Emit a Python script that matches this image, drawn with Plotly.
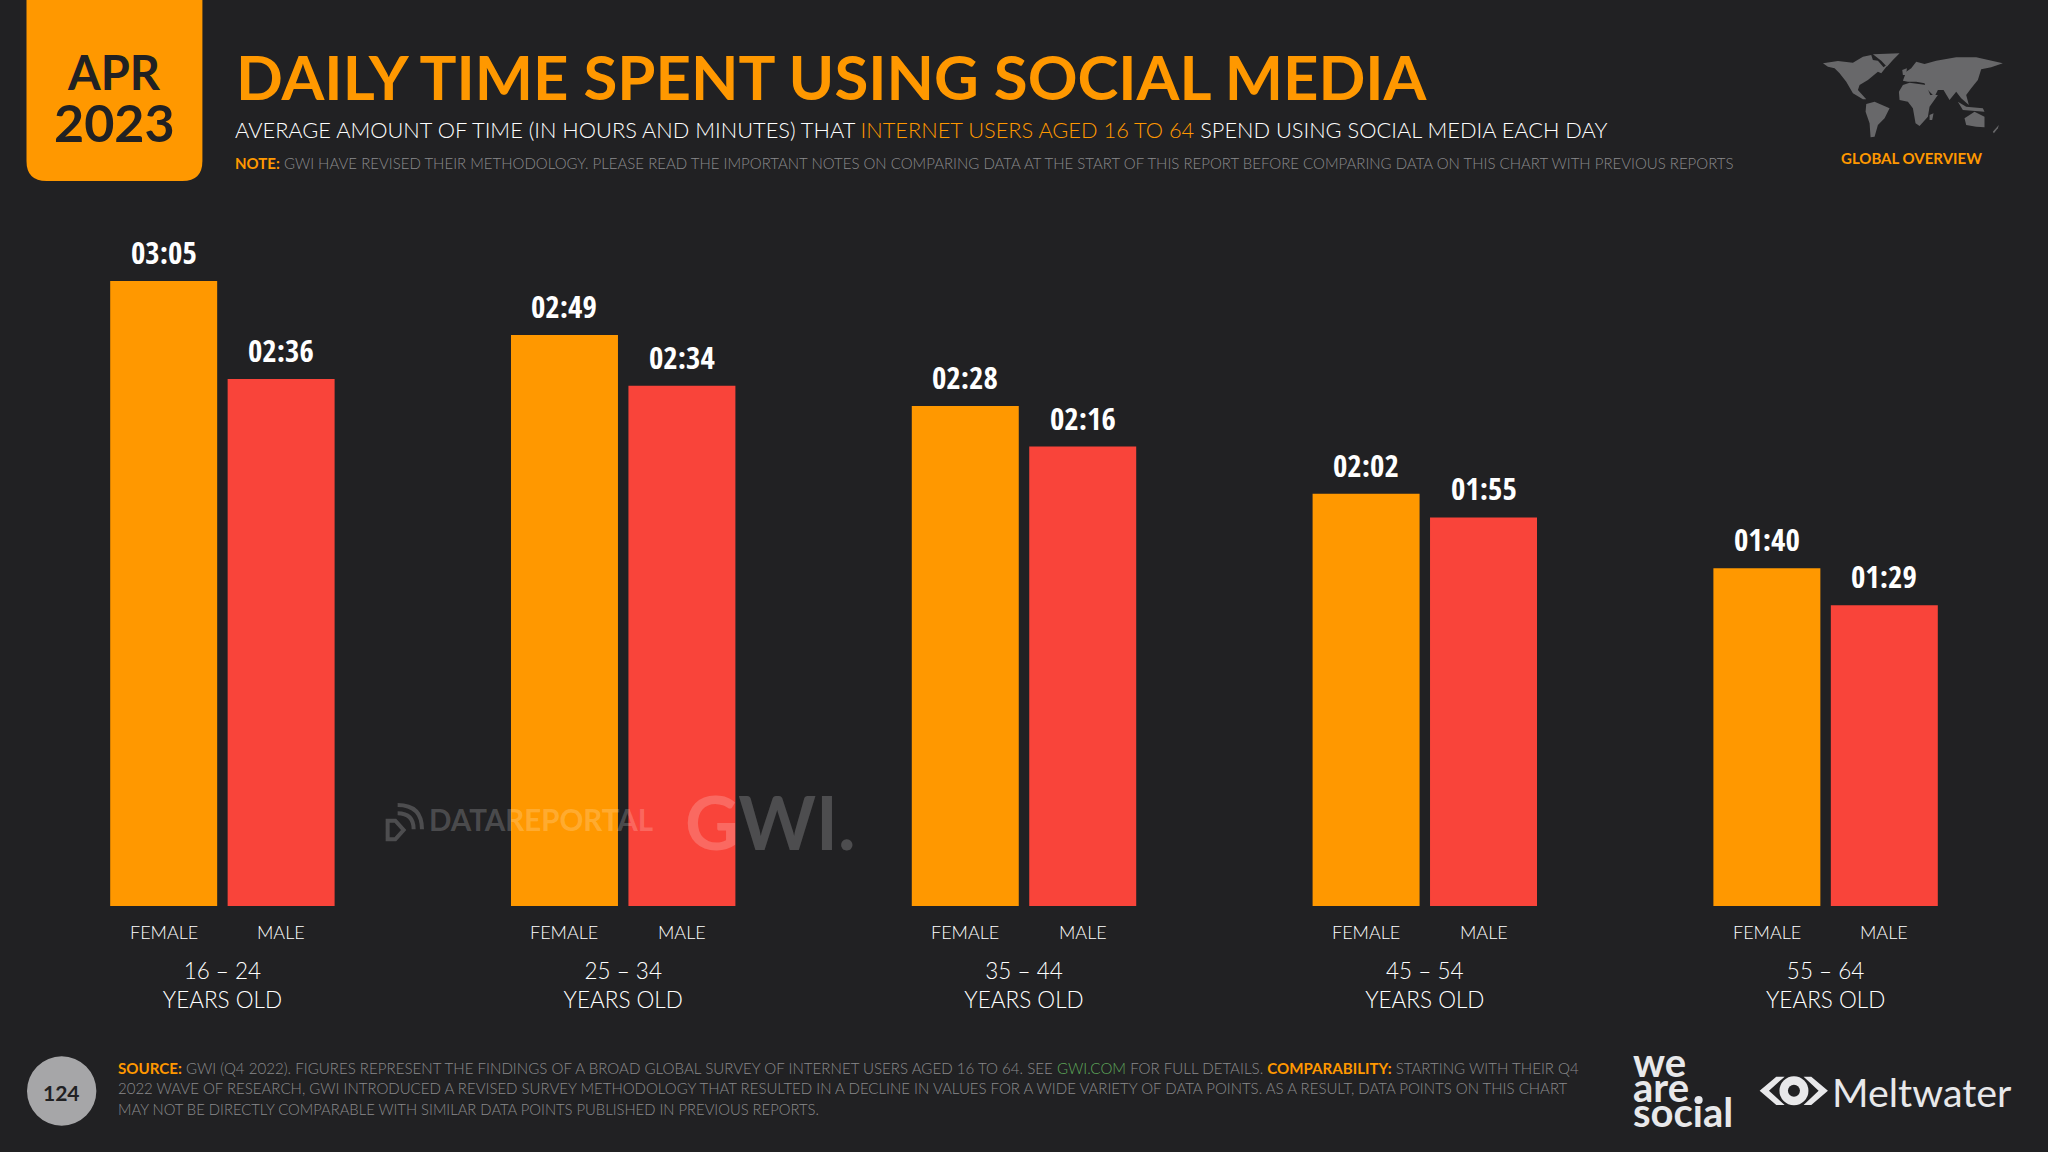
import plotly.graph_objects as go

# minutes per day
age_groups = ["16 – 24", "25 – 34", "35 – 44", "45 – 54", "55 – 64"]
female_minutes = [185, 169, 148, 122, 100]
male_minutes = [156, 154, 136, 115, 89]

ORANGE = "#FF9800"
RED = "#F9443A"
BG = "#212123"
GREY = "#8A8A8C"
LOGO = "#E8E8EA"
MAP_GREY = "#68686A"
WATERMARK = "rgba(255,255,255,0.2)"

W, H = 2048, 1152
PLOT_L, PLOT_R, PLOT_T, PLOT_B = 21.5, 2026.5, 230, 906
BODY = "Lato"
NARROW = "Liberation Sans Narrow, Noto Sans Condensed, Open Sans Condensed, DejaVu Sans Condensed, sans-serif"
BAR_SHIFT = 58.75

# rough outlines for the little world map, in a 600x336 box
MAP_OUTLINES = [
    [(40, 70), (85, 63), (130, 68), (160, 50), (185, 45), (190, 60), (205, 62), (222, 82), (240, 68),
     (215, 100), (205, 95), (175, 120), (150, 135), (145, 150), (170, 178), (160, 178), (130, 160),
     (110, 125), (90, 100), (75, 85), (55, 80)],
    [(190, 43), (270, 40), (250, 60), (232, 80), (215, 62)],
    [(170, 192), (195, 185), (240, 205), (225, 235), (205, 255), (195, 290), (183, 292), (180, 250), (168, 215)],
    [(280, 135), (300, 128), (350, 135), (362, 165), (385, 165), (360, 200), (355, 230), (330, 258),
     (318, 250), (310, 205), (295, 185), (270, 180), (268, 155)],
    [(280, 122), (290, 95), (305, 85), (320, 65), (345, 72), (380, 62), (440, 52), (500, 52), (580, 70),
     (545, 82), (515, 88), (505, 120), (485, 145), (470, 165), (478, 195), (455, 175), (440, 155),
     (420, 180), (402, 150), (385, 150), (375, 170), (350, 145), (345, 130), (320, 125), (295, 125)],
    [(465, 235), (495, 215), (525, 230), (525, 262), (500, 260), (470, 255)],
    [(445, 185), (470, 200), (520, 205), (525, 215), (460, 210)],
    [(360, 225), (372, 220), (368, 240), (360, 240)],
    [(550, 275), (568, 255), (565, 265), (553, 280)],
    [(278, 90), (292, 85), (290, 105), (280, 105)],
]


def px(x):
    return (x - PLOT_L) / (PLOT_R - PLOT_L)


def py(y):
    return (PLOT_B - y) / (PLOT_B - PLOT_T)


def clock(m):
    return f"{m // 60:02d}:{m % 60:02d}"


def note(x, y, text, size, color="white", anchor="left", family=BODY, weight=None):
    return dict(
        xref="paper", yref="paper", x=px(x), y=py(y), text=text, showarrow=False,
        xanchor=anchor, yanchor="middle", align=anchor,
        font=dict(family=family, size=size, color=color, weight=weight),
    )


def span(text, color):
    return f'<span style="color:{color}">{text}</span>'


def poly(points, ox, oy, scale=1 / 3):
    # points in crop coordinates -> svg path in paper coordinates
    parts = [f"{px(ox + u * scale)} {py(oy + v * scale)}" for u, v in points]
    return "M " + " L ".join(parts) + " Z"


def blob(points, ox, oy, color):
    return dict(type="path", xref="paper", yref="paper", line_width=0, fillcolor=color,
                path=poly(points, ox, oy))


def disc(cx, cy, r, color):
    return dict(type="circle", xref="paper", yref="paper", line_width=0, fillcolor=color,
                x0=px(cx - r), x1=px(cx + r), y0=py(cy + r), y1=py(cy - r))


def stroke(points, ox, oy, width):
    # quadratic curve through crop coordinates, for the watermark icon
    (a, b, c) = [(px(ox + u / 3), py(oy + v / 3)) for u, v in points]
    return dict(type="path", xref="paper", yref="paper", line=dict(color=WATERMARK, width=width),
                path=f"M {a[0]} {a[1]} Q {b[0]} {b[1]} {c[0]} {c[1]}")


fig = go.Figure()

for name, values, color in [("FEMALE", female_minutes, ORANGE), ("MALE", male_minutes, RED)]:
    fig.add_trace(
        go.Bar(x=age_groups, y=values, name=name, marker=dict(color=color, line_width=0))
    )

annotations = [
    note(114, 72, "<b>APR</b>", 47, BG, "center"),
    note(114, 122, "<b>2023</b>", 52, BG, "center"),
    note(234, 76, "<b>DAILY TIME SPENT USING SOCIAL MEDIA</b>", 61.7, ORANGE),
    note(233, 130, "AVERAGE AMOUNT OF TIME (IN HOURS AND MINUTES) THAT "
         + span("INTERNET USERS AGED 16 TO 64", ORANGE)
         + " SPEND USING SOCIAL MEDIA EACH DAY", 21.8, weight=300),
    note(233, 163, span("<b>NOTE:</b>", ORANGE)
         + " GWI HAVE REVISED THEIR METHODOLOGY. PLEASE READ THE IMPORTANT NOTES ON COMPARING DATA"
         " AT THE START OF THIS REPORT BEFORE COMPARING DATA ON THIS CHART WITH PREVIOUS REPORTS",
         15, GREY, weight=300),
    note(1912, 158, "<b>GLOBAL OVERVIEW</b>", 15, ORANGE, "center"),
    note(61, 1092, "<b>124</b>", 21, BG, "center"),
    note(116, 1068, span("<b>SOURCE:</b>", ORANGE)
         + " GWI (Q4 2022). FIGURES REPRESENT THE FINDINGS OF A BROAD GLOBAL SURVEY OF INTERNET USERS AGED 16 TO 64. SEE "
         + span("GWI.COM", "#5FA85A") + " FOR FULL DETAILS. "
         + span("<b>COMPARABILITY:</b>", ORANGE) + " STARTING WITH THEIR Q4", 15.1, GREY, weight=300),
    note(116, 1088, "2022 WAVE OF RESEARCH, GWI INTRODUCED A REVISED SURVEY METHODOLOGY THAT RESULTED IN A DECLINE"
         " IN VALUES FOR A WIDE VARIETY OF DATA POINTS. AS A RESULT, DATA POINTS ON THIS CHART", 15, GREY, weight=300),
    note(116, 1109, "MAY NOT BE DIRECTLY COMPARABLE WITH SIMILAR DATA POINTS PUBLISHED IN PREVIOUS REPORTS.",
         14.8, GREY, weight=300),
    note(1631, 1062, "<b>we</b>", 40, LOGO),
    note(1631, 1087, "<b>are</b>", 40, LOGO),
    note(1631, 1112, "<b>social</b>", 40, LOGO),
    note(1830, 1091, "Meltwater", 39.4, LOGO),
    note(427, 819, "<b>DATAREPORTAL</b>", 29.5, WATERMARK),
    note(683, 821, "<b>GWI.</b>", 74, WATERMARK),
]

# value and sex labels sit on each bar, age groups come from the axis ticks
for values, shift, label in [(female_minutes, -BAR_SHIFT, "FEMALE"), (male_minutes, BAR_SHIFT, "MALE")]:
    for g, v in zip(age_groups, values):
        annotations.append(
            dict(xref="x", yref="y", x=g, y=v, xshift=shift, yshift=6, yanchor="bottom",
                 text=clock(v), showarrow=False,
                 font=dict(family=NARROW, size=31, color="white", weight=300))
        )
        annotations.append(
            dict(xref="x", yref="paper", x=g, y=py(932), xshift=shift, text=label,
                 showarrow=False, yanchor="middle",
                 font=dict(family=BODY, size=18, color="white", weight=300))
        )

shapes = [
    # date tab
    dict(type="path", xref="paper", yref="paper", line_width=0, fillcolor=ORANGE,
         path=f"M {px(26)} {py(0)} L {px(202)} {py(0)} L {px(202)} {py(161)} "
              f"Q {px(202)} {py(181)} {px(182)} {py(181)} L {px(46)} {py(181)} "
              f"Q {px(26)} {py(181)} {px(26)} {py(161)} Z"),
    disc(61.2, 1091, 34.7, "#A6A6A8"),
    # are. dot
    disc(1699, 1100, 4, LOGO),
    # meltwater eye
    blob([(470, 110), (495, 110), (448, 152), (495, 195), (470, 195), (420, 152)], 1620, 1040, LOGO),
    blob([(552, 110), (575, 110), (625, 152), (575, 195), (552, 195), (597, 152)], 1620, 1040, LOGO),
    disc(1620 + 523 / 3, 1040 + 152 / 3, 14.5, LOGO),
    disc(1620 + 523 / 3, 1040 + 152 / 3, 6, BG),
    # datareportal icon
    stroke([(112, 105), (185, 105), (185, 178)], 360, 770, 4),
    stroke([(112, 130), (160, 130), (160, 178)], 360, 770, 4),
    dict(type="path", xref="paper", yref="paper", line=dict(color=WATERMARK, width=4),
         path=poly([(82, 152), (105, 152), (130, 180), (105, 208), (82, 208)], 360, 770)),
]
shapes += [blob(outline, 1810, 40, MAP_GREY) for outline in MAP_OUTLINES]

fig.update_layout(
    width=W,
    height=H,
    barmode="group",
    bargap=0.414,
    bargroupgap=0.089,
    showlegend=False,
    paper_bgcolor=BG,
    plot_bgcolor=BG,
    margin=dict(l=PLOT_L, r=W - PLOT_R, t=PLOT_T, b=H - PLOT_B, pad=0, autoexpand=False),
    annotations=annotations,
    shapes=shapes,
)
fig.update_xaxes(
    ticks="outside", ticklen=45, tickcolor="rgba(0,0,0,0)", showline=False, showgrid=False,
    tickvals=age_groups, ticktext=[f"{g}<br>YEARS OLD" for g in age_groups],
    tickfont=dict(family=BODY, size=22.5, color="white", weight=300),
)
fig.update_yaxes(visible=False, range=[0, (PLOT_B - PLOT_T) / (625 / 185)])

# browser default body margin would leave a white frame round the fixed-size figure
fig.write_html(
    "out.html",
    config={"displayModeBar": False},
    post_script=f"document.body.style.margin='0';document.body.style.background='{BG}';",
)
